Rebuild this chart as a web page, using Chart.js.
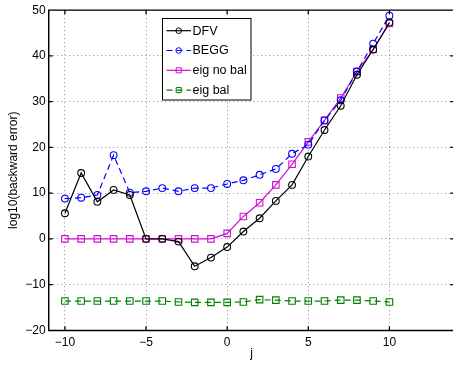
<!DOCTYPE html>
<html>
<head>
<meta charset="utf-8">
<script src="https://cdn.jsdelivr.net/npm/chart.js@4/dist/chart.umd.min.js"></script>
<style>
  html, body { margin: 0; padding: 0; background: #fff; overflow: hidden; }
  #wrap { position: relative; width: 460px; height: 365px; }
</style>
</head>
<body>
<div id="wrap"><canvas id="canvas-err"></canvas></div>
<script>
// data
var j_values = [-10, -9, -8, -7, -6, -5, -4, -3, -2, -1, 0, 1, 2, 3, 4, 5, 6, 7, 8, 9, 10];
var dfv_err = [5.6, 14.4, 8.1, 10.7, 9.6, 0, 0, -0.6, -6.0, -4.1, -1.8, 1.6, 4.5, 8.3, 11.8, 18.0, 23.8, 29.1, 35.9, 41.4, 47.3];
var begg_err = [8.8, 9.0, 9.6, 18.3, 10.1, 10.4, 11.1, 10.4, 11.1, 11.1, 12.0, 12.8, 14.0, 15.3, 18.6, 20.6, 25.9, 30.3, 36.6, 42.7, 48.8];
var eig_nobal_err = [0, 0, 0, 0, 0, 0, 0, 0, 0, 0, 1.2, 4.9, 7.9, 11.8, 16.3, 21.2, 25.9, 30.8, 36.6, 41.4, 47.1];
var eig_bal_err = [-13.6, -13.6, -13.6, -13.6, -13.6, -13.6, -13.6, -13.8, -13.9, -13.9, -13.9, -13.8, -13.3, -13.4, -13.6, -13.6, -13.6, -13.4, -13.4, -13.6, -13.8];
var x_ticks = [-10, -5, 0, 5, 10];
var y_ticks = [-20, -10, 0, 10, 20, 30, 40, 50];
var series_labels = ['DFV', 'BEGG', 'eig no bal', 'eig bal'];

function toPoints(vals){
    return j_values.map(function(j, i){ return {x: j, y: vals[i]}; });
}
function minusSign(v){
    return String(v).replace('-', '\u2212');
}

var FONT = '"Liberation Sans", Arial, Helvetica, sans-serif';
var MAGENTA = '#d010d0';
var GREEN = '#008000';
var NOFILL = 'rgba(0,0,0,0)';

// box round the axes + inward tick marks (matlab style)
var axesBox = {
    id: 'axesBox',
    afterDraw: function(chart){
        var ctx = chart.ctx, a = chart.chartArea;
        var xs = chart.scales.x, ys = chart.scales.y;
        ctx.save();
        ctx.setLineDash([]);
        ctx.strokeStyle = '#000';
        ctx.lineWidth = 1.3;
        ctx.beginPath();
        ctx.rect(a.left, a.top, a.right - a.left, a.bottom - a.top);
        x_ticks.forEach(function(t){
            var px = xs.getPixelForValue(t);
            ctx.moveTo(px, a.bottom); ctx.lineTo(px, a.bottom - 4);
            ctx.moveTo(px, a.top); ctx.lineTo(px, a.top + 4);
        });
        y_ticks.forEach(function(t){
            var py = ys.getPixelForValue(t);
            ctx.moveTo(a.left, py); ctx.lineTo(a.left + 4, py);
            ctx.moveTo(a.right, py); ctx.lineTo(a.right - 4, py);
        });
        ctx.stroke();
        ctx.restore();
    }
};

// boxed legend inside the axes
var boxLegend = {
    id: 'boxLegend',
    afterDraw: function(chart){
        var ctx = chart.ctx;
        var bx = 162.5, by = 18.5, bw = 88.5, bh = 81.5;
        ctx.save();
        ctx.fillStyle = '#fff';
        ctx.fillRect(bx, by, bw, bh);
        ctx.strokeStyle = '#000';
        ctx.lineWidth = 1;
        ctx.strokeRect(bx, by, bw, bh);
        chart.data.datasets.forEach(function(ds, i){
            var y = 30.7 + i * 19.8;
            ctx.strokeStyle = ds.borderColor;
            ctx.lineWidth = ds.borderWidth;
            ctx.setLineDash(ds.borderDash || []);
            ctx.beginPath();
            ctx.moveTo(166.5, y); ctx.lineTo(191, y);
            ctx.stroke();
            ctx.setLineDash([]);
            ctx.fillStyle = NOFILL;
            ctx.lineWidth = 1;
            Chart.helpers.drawPoint(ctx, {
                pointStyle: ds.pointStyle,
                radius: ds.pointStyle === 'rect' ? 3.6 : 2.8,
                borderWidth: 1
            }, 178.7, y);
            ctx.fillStyle = '#000';
            ctx.font = '12.5px ' + FONT;
            ctx.textBaseline = 'middle';
            ctx.fillText(ds.label, 192.5, y + 0.5);
        });
        ctx.restore();
    }
};

var gridOpts = {
    color: 'rgba(0,0,0,0.45)',
    lineWidth: 1,
    drawTicks: false
};

var ctx = document.getElementById('canvas-err').getContext('2d');
var err_chart = new Chart(ctx, {
    type: 'scatter',
    data: {
        datasets: [
            {
                label: series_labels[0],
                data: toPoints(dfv_err),
                showLine: true,
                borderColor: '#000',
                backgroundColor: NOFILL,
                borderWidth: 1.2,
                pointStyle: 'circle',
                pointRadius: 3.4,
                pointBorderWidth: 1.1
            },
            {
                label: series_labels[1],
                data: toPoints(begg_err),
                showLine: true,
                borderColor: '#0000ff',
                backgroundColor: NOFILL,
                borderWidth: 1.2,
                borderDash: [6, 4],
                pointStyle: 'circle',
                pointRadius: 3.4,
                pointBorderWidth: 1.1
            },
            {
                label: series_labels[2],
                data: toPoints(eig_nobal_err),
                showLine: true,
                borderColor: MAGENTA,
                backgroundColor: NOFILL,
                borderWidth: 1.2,
                pointStyle: 'rect',
                pointRadius: 4.6,
                pointBorderWidth: 1.1
            },
            {
                label: series_labels[3],
                data: toPoints(eig_bal_err),
                showLine: true,
                borderColor: GREEN,
                backgroundColor: NOFILL,
                borderWidth: 1.2,
                borderDash: [6, 4],
                pointStyle: 'rect',
                pointRadius: 4.6,
                pointBorderWidth: 1.1
            }
        ]
    },
    options: {
        responsive: true,
        maintainAspectRatio: false,
        animation: false,
        events: [],
        layout: { padding: { top: 8, right: 2.8, left: 0, bottom: 0 } },
        plugins: {
            legend: { display: false },
            tooltip: { enabled: false }
        },
        scales: {
            x: {
                type: 'linear',
                min: -11,
                max: 14,
                afterBuildTicks: function(scale){
                    scale.ticks = x_ticks.map(function(v){ return {value: v}; });
                },
                afterFit: function(scale){ scale.height = 34.7; },
                grid: gridOpts,
                border: { display: true, color: '#000', width: 1.2, dash: [1, 3] },
                ticks: {
                    padding: 5,
                    color: '#000',
                    font: { family: FONT, size: 12 },
                    callback: function(v){ return minusSign(v); }
                },
                title: {
                    display: true,
                    text: 'j',
                    color: '#000',
                    font: { family: FONT, size: 12 },
                    padding: { top: 4, bottom: 4 }
                }
            },
            y: {
                type: 'linear',
                min: -20,
                max: 50,
                afterBuildTicks: function(scale){
                    scale.ticks = y_ticks.map(function(v){ return {value: v}; });
                },
                afterFit: function(scale){ scale.width = 48.7; },
                grid: gridOpts,
                border: { display: true, color: '#000', width: 1.2, dash: [1, 3] },
                ticks: {
                    padding: 3,
                    color: '#000',
                    font: { family: FONT, size: 12 },
                    callback: function(v){ return minusSign(v); }
                },
                title: {
                    display: true,
                    text: 'log10(backward error)',
                    color: '#000',
                    font: { family: FONT, size: 12 },
                    padding: { top: 6, bottom: 0 }
                }
            }
        }
    },
    plugins: [axesBox, boxLegend]
});
</script>
</body>
</html>
